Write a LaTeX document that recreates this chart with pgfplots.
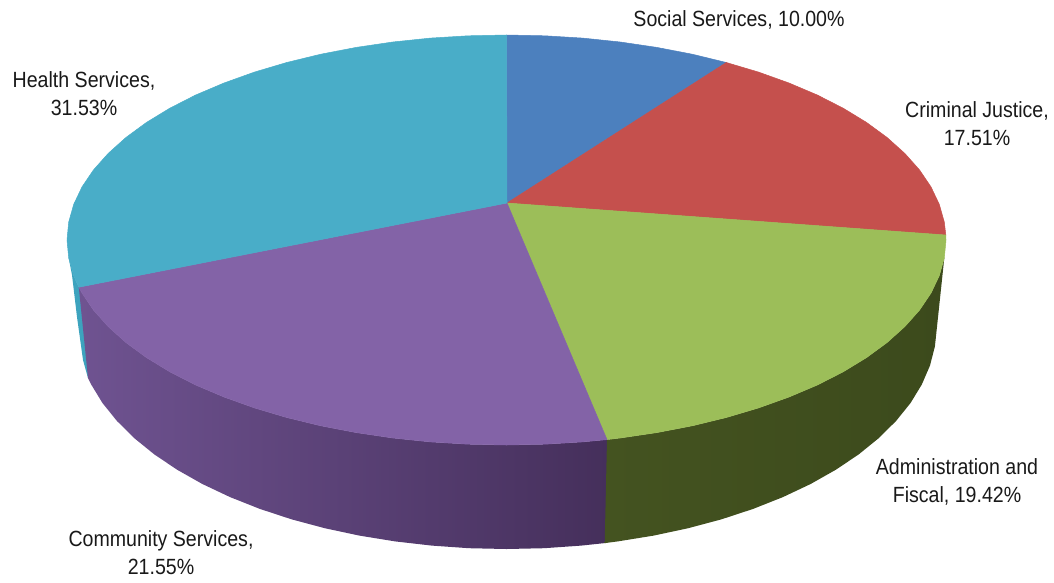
\documentclass[border=0pt]{standalone}
\usepackage{pgfplots}
\pgfplotsset{compat=1.18}
\usepackage{fontspec}
\setmainfont[FakeStretch=0.89]{Liberation Sans}
\definecolor{cblue}{HTML}{4C80BE}
\definecolor{cred}{HTML}{C5504D}
\definecolor{cgreen}{HTML}{9CBE59}
\definecolor{cpurple}{HTML}{8363A7}
\definecolor{cteal}{HTML}{49ADC8}
\definecolor{sideteal}{HTML}{3DA3BE}
\definecolor{purpleL}{HTML}{6F5391}
\definecolor{purpleM}{HTML}{5A4476}
\definecolor{purpleR}{HTML}{452F5B}
\definecolor{greenL}{HTML}{445320}
\definecolor{greenR}{HTML}{3C4A1C}
\newcommand{\plabel}[2]{\node[align=center,font=\fontsize{22}{28}\selectfont,text=black!90,inner sep=0pt] at (axis cs:#1) {#2};}
\begin{document}
\begin{tikzpicture}
\begin{axis}[
  hide axis, scale only axis, width=1054pt, height=582pt,
  xmin=0, xmax=1054, ymin=0, ymax=582, y dir=reverse,
  no markers, clip=false,
]
% keep the full plotting area as the page
\path (axis cs:0,0) rectangle (axis cs:1054,582);
% rim: Health Services sliver, tucked under the neighbouring rim
\addplot[fill=sideteal,draw=none] coordinates {(86,300)(78.8,287.2)(73.7,275.6)(68.7,257.9)(72,275)(77,317)(83,360)(88,378)(90,370)} --cycle;
% rim: Community Services, tucked under the neighbouring rim on its right
\addplot[left color=purpleL,middle color=purpleM,right color=purpleR,draw=none] coordinates {(609,439.4)(582.8,441.9)(544.8,444.2)(506.5,445)(468.2,444.2)(430.2,441.9)(392.8,438)(356.2,432.6)(320.8,425.8)(286.7,417.5)(254.4,407.9)(224,397)(195.7,385)(169.8,371.8)(146.5,357.6)(125.9,342.5)(108.2,326.6)(93.5,310.1)(82,293.1)(78.8,287.2)
 (88,378)(91.2,384.5)(102.4,402.9)(116.8,420.8)(134.1,438)(154.2,454.3)(177.1,469.7)(202.4,484)(230.1,497.1)(259.9,508.9)(291.5,519.3)(324.8,528.2)(359.4,535.6)(395.2,541.4)(431.9,545.6)(469,548.2)(506.5,549)(544,548.2)(581.1,545.6)(606.5,542.9)} --cycle;
% rim: Administration and Fiscal
\addplot[left color=greenL,right color=greenR,draw=none] coordinates {(607,439.6)(620.2,438)(656.8,432.6)(692.2,425.8)(726.3,417.5)(758.6,407.9)(789,397)(817.3,385)(843.2,371.8)(866.5,357.6)(887.1,342.5)(904.8,326.6)(919.5,310.1)(931,293.1)(939.3,275.6)(944.3,257.9)
 (934.9,346.4)(930,365.5)(921.8,384.5)(910.6,402.9)(896.2,420.8)(878.9,438)(858.8,454.3)(835.9,469.7)(810.6,484)(782.9,497.1)(753.1,508.9)(721.5,519.3)(688.2,528.2)(653.6,535.6)(617.8,541.4)(604.7,543.1)} --cycle;
% top faces
\addplot[fill=cblue,draw=cblue,line width=0.5pt] coordinates {(507,203)(506.5,35)(544.8,35.8)(582.8,38.1)(620.2,42)(656.8,47.4)(692.2,54.2)(726.3,62.5)} --cycle;
\addplot[fill=cred,draw=cred,line width=0.5pt] coordinates {(507,203)(726.3,62.5)(758.6,72.1)(789,83)(817.3,95)(843.2,108.2)(866.5,122.4)(887.1,137.5)(904.8,153.4)(919.5,169.9)(931,186.9)(939.3,204.4)(944.3,222.1)(945.8,235)} --cycle;
\addplot[fill=cgreen,draw=cgreen,line width=0.5pt] coordinates {(507,203)(945.8,235)(946,240)(944.3,257.9)(939.3,275.6)(931,293.1)(919.5,310.1)(904.8,326.6)(887.1,342.5)(866.5,357.6)(843.2,371.8)(817.3,385)(789,397)(758.6,407.9)(726.3,417.5)(692.2,425.8)(656.8,432.6)(620.2,438)(607,439.6)} --cycle;
\addplot[fill=cpurple,draw=cpurple,line width=0.5pt] coordinates {(507,203)(607,439.6)(582.8,441.9)(544.8,444.2)(506.5,445)(468.2,444.2)(430.2,441.9)(392.8,438)(356.2,432.6)(320.8,425.8)(286.7,417.5)(254.4,407.9)(224,397)(195.7,385)(169.8,371.8)(146.5,357.6)(125.9,342.5)(108.2,326.6)(93.5,310.1)(82,293.1)(78.8,287.2)} --cycle;
\addplot[fill=cteal,draw=cteal,line width=0.5pt] coordinates {(507,203)(78.8,287.2)(73.7,275.6)(68.7,257.9)(67,240)(68.7,222.1)(73.7,204.4)(82,186.9)(93.5,169.9)(108.2,153.4)(125.9,137.5)(146.5,122.4)(169.8,108.2)(195.7,95)(224,83)(254.4,72.1)(286.7,62.5)(320.8,54.2)(356.2,47.4)(392.8,42)(430.2,38.1)(468.2,35.8)(506.5,35)} --cycle;
% slice labels
\plabel{739,20}{Social Services, 10.00\%}
\plabel{977,124}{Criminal Justice,\\17.51\%}
\plabel{84,94}{Health Services,\\31.53\%}
\plabel{957,482}{Administration and\\Fiscal, 19.42\%}
\plabel{161,553}{Community Services,\\21.55\%}
\end{axis}
\end{tikzpicture}
\end{document}
